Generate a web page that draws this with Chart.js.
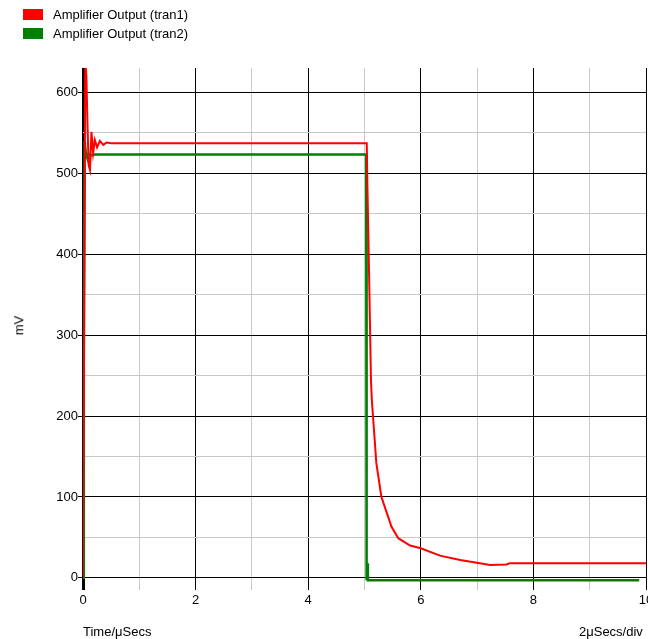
<!DOCTYPE html>
<html>
<head>
<meta charset="utf-8">
<script src="https://cdn.jsdelivr.net/npm/chart.js@4.4.1/dist/chart.umd.min.js"></script>
<style>
  html, body { margin: 0; padding: 0; background: #fff; }
  #wrap { position: relative; width: 648px; height: 639px; overflow: hidden; font-family: "Liberation Sans", Arial, sans-serif; }
  #chart { position: absolute; left: 0; top: 0; }
  .leg { position: absolute; left: 23px; font-size: 13px; color: #000; }
  .leg .sw { position: absolute; left: 0; width: 20px; height: 11px; }
  .leg .tx { position: absolute; left: 30px; top: -2px; white-space: nowrap; }
  .lbl { position: absolute; font-size: 13px; color: #000; white-space: nowrap; }
</style>
</head>
<body>
<div id="wrap">
  <canvas id="chart" width="648" height="639"></canvas>
  <div class="leg" style="top:9px"><div class="sw" style="background:#ff0000"></div><div class="tx">Amplifier Output (tran1)</div></div>
  <div class="leg" style="top:28px"><div class="sw" style="background:#008000"></div><div class="tx">Amplifier Output (tran2)</div></div>
  <div class="lbl" style="left:9px;top:318px;transform:rotate(-90deg);transform-origin:center">mV</div>
  <div class="lbl" style="left:83px;top:624px">Time/μSecs</div>
  <div class="lbl" style="left:579px;top:624px">2μSecs/div</div>
</div>
<script>
/* series (time in µs, value in mV) */
var tran1T = [0, 0.02, 0.04, 0.06, 0.08, 0.10, 0.124, 0.15, 0.18, 0.21, 0.25, 0.30, 0.36, 0.42, 0.50,
              5.04, 5.05, 5.08, 5.115, 5.13, 5.21, 5.30, 5.48, 5.60, 5.81, 6.00, 6.34, 6.70, 7.05, 7.23, 7.52, 7.58, 10];
var tran1V = [0, 300, 640, 620, 560, 510, 504, 551, 525, 541, 532, 540, 535, 538, 537,
              537, 490, 380, 244, 220, 142, 100, 63, 49, 40, 36.6, 27.5, 22, 18, 16, 16.5, 18, 18];

var tran2T = [0, 0.015, 0.03, 0.05, 0.08, 0.10, 0.15, 0.20, 5.03, 5.035, 5.04, 5.05, 5.06, 9.88];
var tran2V = [0, 300, 540, 525, 518, 524, 522, 523, 523, 300, -3, 18, -3, -3];

var xTicks = [0, 1, 2, 3, 4, 5, 6, 7, 8, 9, 10];
var yTicks = [0, 50, 100, 150, 200, 250, 300, 350, 400, 450, 500, 550, 600];

function pts(t, v) {
  return t.map(function(x, i) { return { x: x, y: v[i] }; });
}

var MAJOR = '#000000', MINOR = '#c8c8c8';
var FONT = { family: '"Liberation Sans", Arial, sans-serif', size: 13 };

new Chart(document.getElementById('chart'), {
  type: 'line',
  data: {
    datasets: [
      { label: 'Amplifier Output (tran1)', data: pts(tran1T, tran1V), borderColor: '#ff0000', borderWidth: 2, pointRadius: 0, tension: 0 },
      { label: 'Amplifier Output (tran2)', data: pts(tran2T, tran2V), borderColor: '#008000', borderWidth: 2.5, pointRadius: 0, tension: 0 }
    ]
  },
  options: {
    responsive: false,
    animation: false,
    layout: { padding: { left: 0, top: 68, right: 2, bottom: 0 } },
    plugins: { legend: { display: false }, tooltip: { enabled: false } },
    scales: {
      x: {
        type: 'linear', min: 0, max: 10,
        afterBuildTicks: function(s) { s.ticks = xTicks.map(function(v) { return { value: v }; }); },
        afterFit: function(s) { s.height = 49; s.paddingRight = 0; s.paddingLeft = 0; },
        border: { display: false },
        grid: {
          drawTicks: false,
          color: function(c) { return c.tick && (c.tick.value % 2 === 0 || c.tick.value === 10) ? MAJOR : MINOR; },
          lineWidth: function(c) { return c.tick && c.tick.value === 0 ? 3 : 1; }
        },
        ticks: {
          padding: 3,
          color: '#000',
          font: FONT,
          autoSkip: false, maxRotation: 0,
          callback: function(v) { return v % 2 === 0 ? v : ''; }
        }
      },
      y: {
        type: 'linear', min: -15, max: 630,
        afterBuildTicks: function(s) { s.ticks = yTicks.map(function(v) { return { value: v }; }); },
        afterFit: function(s) { s.width = 83; },
        border: { display: false },
        grid: {
          drawTicks: true,
          tickLength: 5,
          tickColor: function(c) { return c.tick && c.tick.value % 100 === 0 ? MAJOR : 'rgba(0,0,0,0)'; },
          color: function(c) { return c.tick && c.tick.value % 100 === 0 ? MAJOR : MINOR; },
          lineWidth: 1
        },
        ticks: {
          padding: 0,
          color: '#000',
          font: FONT,
          autoSkip: false,
          callback: function(v) { return v % 100 === 0 ? v : ''; }
        }
      }
    }
  }
});
</script>
</body>
</html>
